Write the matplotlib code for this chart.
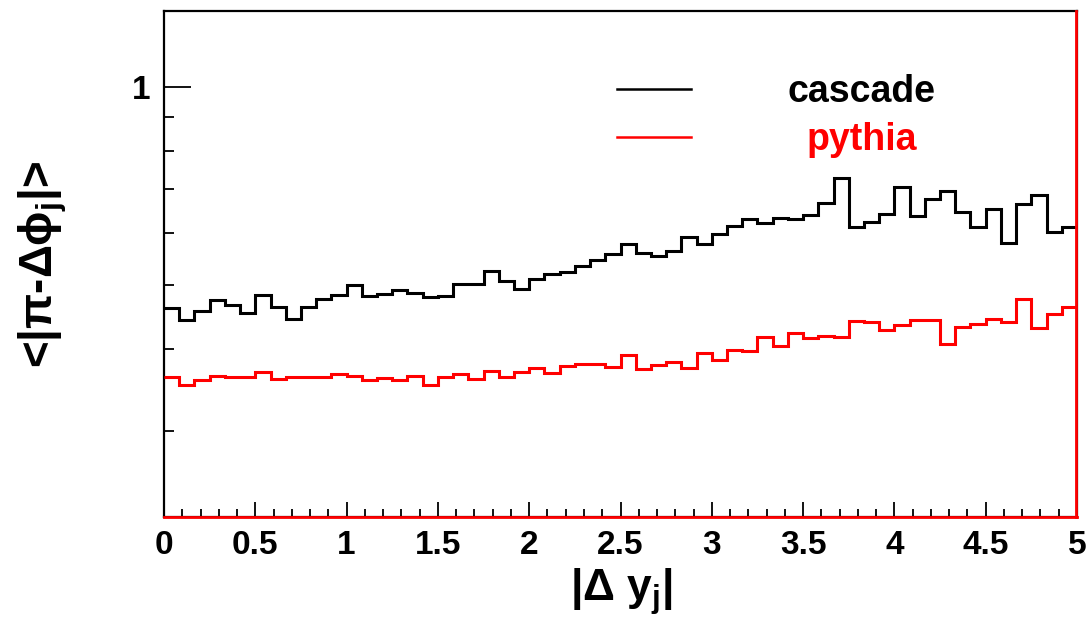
import numpy as np
import matplotlib
matplotlib.use("Agg")
import matplotlib.pyplot as plt
from matplotlib.ticker import FixedLocator, NullFormatter

plt.rcParams['font.family'] = ['Liberation Sans', 'DejaVu Sans']
plt.rcParams['font.weight'] = 'bold'
plt.rcParams['mathtext.fontset'] = 'custom'
plt.rcParams['mathtext.rm'] = 'Liberation Sans'
plt.rcParams['mathtext.it'] = 'Liberation Sans'
plt.rcParams['mathtext.bf'] = 'Liberation Sans:bold'

# 60 bins de |dy| entre 0 y 5
bordes = np.linspace(0, 5, 61)

cascade = [0.461, 0.442, 0.457, 0.475, 0.466, 0.453, 0.483, 0.463, 0.444, 0.463,
           0.476, 0.483, 0.500, 0.481, 0.485, 0.491, 0.486, 0.479, 0.482, 0.501,
           0.502, 0.526, 0.508, 0.494, 0.510, 0.519, 0.523, 0.535, 0.545, 0.558,
           0.578, 0.559, 0.553, 0.563, 0.591, 0.577, 0.598, 0.615, 0.630, 0.621,
           0.633, 0.629, 0.640, 0.666, 0.728, 0.612, 0.624, 0.642, 0.704, 0.636,
           0.676, 0.695, 0.646, 0.612, 0.653, 0.579, 0.664, 0.685, 0.603, 0.613]

pythia = [0.362, 0.353, 0.358, 0.364, 0.362, 0.362, 0.369, 0.360, 0.362, 0.362,
          0.363, 0.366, 0.364, 0.359, 0.361, 0.358, 0.364, 0.353, 0.362, 0.366,
          0.360, 0.370, 0.362, 0.369, 0.374, 0.367, 0.377, 0.379, 0.379, 0.375,
          0.391, 0.373, 0.378, 0.382, 0.374, 0.394, 0.384, 0.398, 0.397, 0.417,
          0.404, 0.423, 0.415, 0.419, 0.417, 0.441, 0.440, 0.427, 0.435, 0.443,
          0.443, 0.407, 0.431, 0.437, 0.444, 0.440, 0.477, 0.430, 0.452, 0.463]

ymin, ymax = 0.222, 1.305

fig = plt.figure(figsize=(10.9, 6.34), dpi=100)
ax = fig.add_axes([164/1090, 1 - 517/634, (1077-164)/1090, (517-11)/634])

ax.stairs(cascade, bordes, baseline=None, color="black", linewidth=2.2, clip_on=False, zorder=3)
ax.stairs(pythia, bordes, baseline=None, color="red", linewidth=2.2, clip_on=False, zorder=3)
# el marco queda redibujado en rojo abajo y a la derecha
ax.axhline(ymin, color="red", linewidth=2.0, clip_on=False, zorder=3)
ax.axvline(4.994, color="red", linewidth=2.0, clip_on=False, zorder=3)

ax.set_yscale("log")
ax.set_xlim(0, 5)
ax.set_ylim(ymin, ymax)

ax.xaxis.set_major_locator(FixedLocator(np.arange(0, 5.01, 0.5)))
ax.xaxis.set_minor_locator(FixedLocator(np.arange(0, 5.01, 0.1)))
ax.set_xticklabels(["0", "0.5", "1", "1.5", "2", "2.5", "3", "3.5", "4", "4.5", "5"])
ax.yaxis.set_major_locator(FixedLocator([1.0]))
ax.yaxis.set_minor_locator(FixedLocator([0.3, 0.4, 0.5, 0.6, 0.7, 0.8, 0.9]))
ax.set_yticklabels(["1"])
ax.yaxis.set_minor_formatter(NullFormatter())

ax.tick_params(axis="x", which="major", direction="in", length=11, width=1.3,
               labelsize=24, pad=9)
ax.tick_params(axis="x", which="minor", direction="in", length=5.5, width=1.3)
ax.tick_params(axis="y", which="major", direction="in", length=19.5, width=1.3,
               labelsize=24, pad=10)
ax.tick_params(axis="y", which="minor", direction="in", length=7.5, width=1.3)
for lab in ax.get_xticklabels() + ax.get_yticklabels():
    lab.set_fontweight("bold")

for s in ax.spines.values():
    s.set_linewidth(1.6)

# leyenda a mano
ax.plot([0.496, 0.577], [0.846, 0.846], color="black", linewidth=1.8, transform=ax.transAxes)
ax.plot([0.496, 0.577], [0.751, 0.751], color="red", linewidth=1.8, transform=ax.transAxes)
ax.text(0.7645, 0.840, "cascade", color="black", fontsize=27, fontweight="bold",
        ha="center", va="center", transform=ax.transAxes)
ax.text(0.7645, 0.745, "pythia", color="red", fontsize=27, fontweight="bold",
        ha="center", va="center", transform=ax.transAxes)

fig.text(621/1090, 1 - 592/634, r"|$\Delta$ y$_{\mathbf{j}}$|", fontsize=32,
         fontweight="bold", ha="center", va="center")
fig.text(43/1090, 1 - 264/634, r"<|$\pi$-$\Delta\phi_{\mathbf{j}}$|>", fontsize=33,
         fontweight="bold", ha="center", va="center", rotation=90)

plt.savefig("out.png", dpi=100)
